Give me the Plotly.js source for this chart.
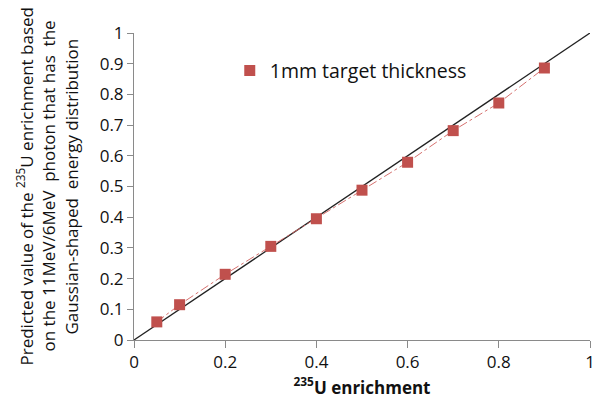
<!DOCTYPE html>
<html><head><meta charset="utf-8">
<script src="https://cdn.plot.ly/plotly-3.0.1.min.js"></script>
<style>body{margin:0;background:#fff}#c{width:596px;height:405px}</style>
</head><body><div id="c"></div>
<script>
var enrichment = [0.05, 0.1, 0.2, 0.3, 0.4, 0.5, 0.6, 0.7, 0.8, 0.9];
var predicted = [0.059, 0.115, 0.214, 0.305, 0.395, 0.488, 0.579, 0.682, 0.772, 0.886];
var refX = [0, 1];
var refY = [0, 1];
var seriesName = '1mm target thickness';
var xTicks = [0, 0.2, 0.4, 0.6, 0.8, 1];
var yTicks = [0, 0.1, 0.2, 0.3, 0.4, 0.5, 0.6, 0.7, 0.8, 0.9, 1];

var red = '#c0504d';
var font = 'Open Sans, Lato, sans-serif';
var traces = [
  {x: refX, y: refY, mode: 'lines', line: {color: '#222', width: 1.3}, showlegend: false, hoverinfo: 'skip'},
  {x: enrichment, y: predicted, mode: 'lines', line: {color: '#d0605d', width: 0.9, dash: 'dashdot'}, showlegend: false},
  {x: enrichment, y: predicted, mode: 'markers', name: seriesName,
   marker: {symbol: 'square', size: 11, color: red}}
];
var axisCommon = {
  showgrid: false, zeroline: false, showline: true, linecolor: '#8a8a8a', linewidth: 1,
  ticks: 'outside', ticklen: 7, tickcolor: '#8a8a8a', tickfont: {family: font, size: 17, color: '#111'},
  range: [0, 1], fixedrange: true
};
var yFont = {family: font, size: 17, color: '#111'};
var layout = {
  width: 596, height: 405,
  margin: {l: 134, r: 6, t: 33, b: 65},
  paper_bgcolor: '#fff', plot_bgcolor: '#fff',
  font: {family: font, color: '#111'},
  xaxis: Object.assign({}, axisCommon, {tickvals: xTicks, ticktext: xTicks.map(String),
    title: {text: '<b><sup>235</sup>U enrichment</b>', font: {family: font, size: 17}, standoff: 5}}),
  yaxis: Object.assign({}, axisCommon, {ticklen: 6, tickvals: yTicks, ticktext: yTicks.map(String)}),
  legend: {x: 0.21, y: 0.94, xanchor: 'left', yanchor: 'top', bgcolor: 'rgba(0,0,0,0)',
    font: {family: font, size: 19.5, color: '#111'}},
  annotations: [
    {text: 'Predicted value of the <sup>235</sup>U enrichment based', xref: 'paper', yref: 'paper',
     x: 0, y: 0.5, xanchor: 'center', yanchor: 'middle', xshift: -109, textangle: -90, showarrow: false,
     font: yFont},
    {text: 'on the 11MeV/6MeV  photon that has  the', xref: 'paper', yref: 'paper',
     x: 0, y: 0.5, xanchor: 'center', yanchor: 'middle', xshift: -86, textangle: -90, showarrow: false,
     font: yFont},
    {text: 'Gaussian-shaped  energy distribution', xref: 'paper', yref: 'paper',
     x: 0, y: 0.5, xanchor: 'center', yanchor: 'middle', xshift: -63, textangle: -90, showarrow: false,
     font: yFont}
  ]
};
Plotly.newPlot('c', traces, layout, {displayModeBar: false, staticPlot: true});
</script></body></html>
